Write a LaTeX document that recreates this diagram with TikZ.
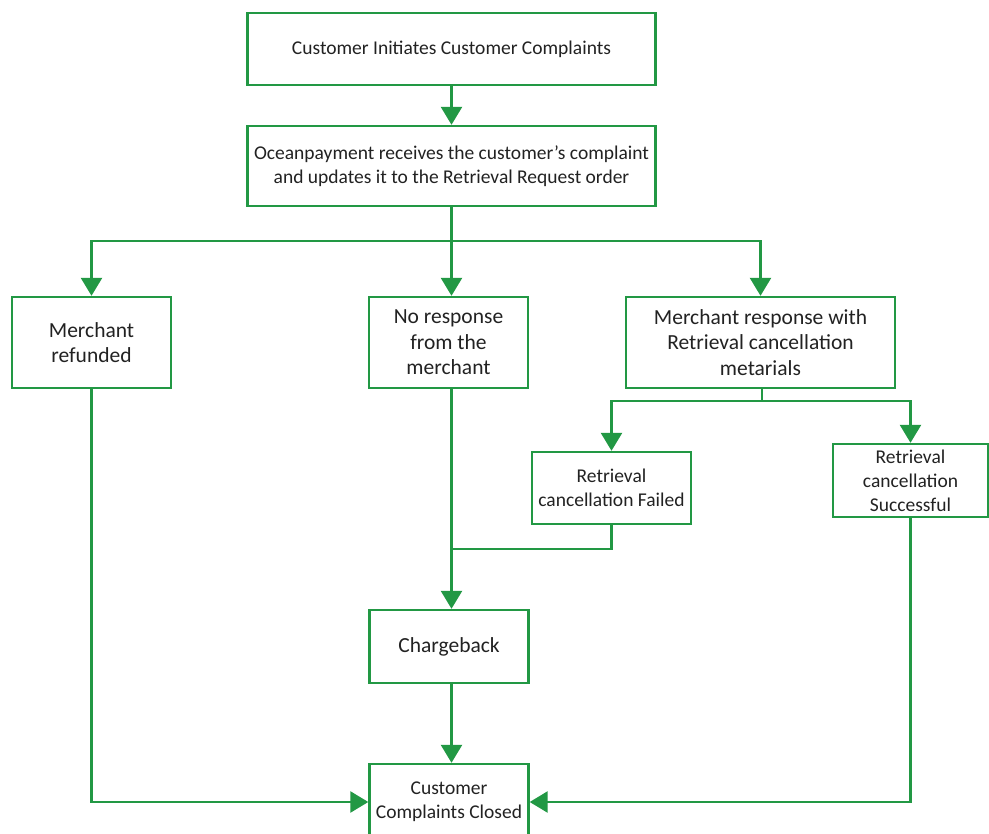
\documentclass[tikz,border=0pt]{standalone}
\usepackage{fontspec}
\setmainfont{Carlito}
\usetikzlibrary{arrows.meta}
\definecolor{flowgreen}{RGB}{34,152,68}
\definecolor{txtgray}{RGB}{34,34,34}
\tikzset{
  box/.style={draw=flowgreen, line width=2.4pt, rectangle, inner sep=0pt, align=center, text=txtgray},
  smalltext/.style={font=\fontsize{19.5}{24}\selectfont},
  bigtext/.style={font=\fontsize{21.5}{25.5}\selectfont},
  conn/.style={draw=flowgreen, line width=2.6pt},
  arr/.style={conn, -{Triangle[width=21pt,length=18pt]}},
}
\begin{document}
\begin{tikzpicture}[x=1pt,y=-1pt]
\useasboundingbox (0,0) rectangle (989,834);
\clip (0,0) rectangle (989,834);
\fill[white] (0,0) rectangle (989,834);

\node[box, smalltext, minimum width=408pt, minimum height=72pt] (b1) at (451.5,49) {Customer Initiates Customer Complaints};
\node[box, smalltext, minimum width=408pt, minimum height=80pt] (b2) at (451.5,166) {Oceanpayment receives the customer's complaint\\and updates it to the Retrieval Request order};

\node[box, bigtext, minimum width=159pt, minimum height=91pt] (refund) at (91.5,342.5) {Merchant\\refunded};
\node[box, bigtext, minimum width=159pt, minimum height=91pt] (noresp) at (448.5,342.5) {No response\\from the\\merchant};
\node[box, bigtext, minimum width=269pt, minimum height=91pt] (mresp) at (760.5,342.5) {Merchant response with\\Retrieval cancellation\\metarials};

\node[box, smalltext, minimum width=159pt, minimum height=72pt] (failed) at (611.5,488) {Retrieval\\cancellation Failed};
\node[box, smalltext, minimum width=155pt, minimum height=73pt] (success) at (910.5,480.5) {Retrieval\\cancellation\\Successful};

\node[box, bigtext, minimum width=159pt, minimum height=73pt] (charge) at (449,646.5) {Chargeback};
\node[box, smalltext, minimum width=159pt, minimum height=76pt] (closed) at (449,802) {Customer\\Complaints Closed};

\coordinate (j1) at (451.5,241);
\coordinate (j2) at (762,401);
\coordinate (j3) at (451.5,549);

\draw[arr] (b1.south) -- (b2.north);
\draw[conn] (b2.south) -- (j1);
\draw[arr] (j1) -| (refund.north);
\draw[arr] (j1) -- (j1 |- noresp.north);
\draw[arr] (j1) -| (mresp.north);

\draw[conn] (j2 |- mresp.south) -- (j2);
\draw[arr] (j2) -| (failed.north);
\draw[arr] (j2) -| (success.north);

\draw[conn] (failed.south) |- (j3);
\draw[arr] (j1 |- noresp.south) -- (j1 |- charge.north);
\draw[arr] (j1 |- charge.south) -- (j1 |- closed.north);

\draw[arr] (refund.south) |- (closed.west);
\draw[arr] (success.south) |- (closed.east);
\end{tikzpicture}
\end{document}
